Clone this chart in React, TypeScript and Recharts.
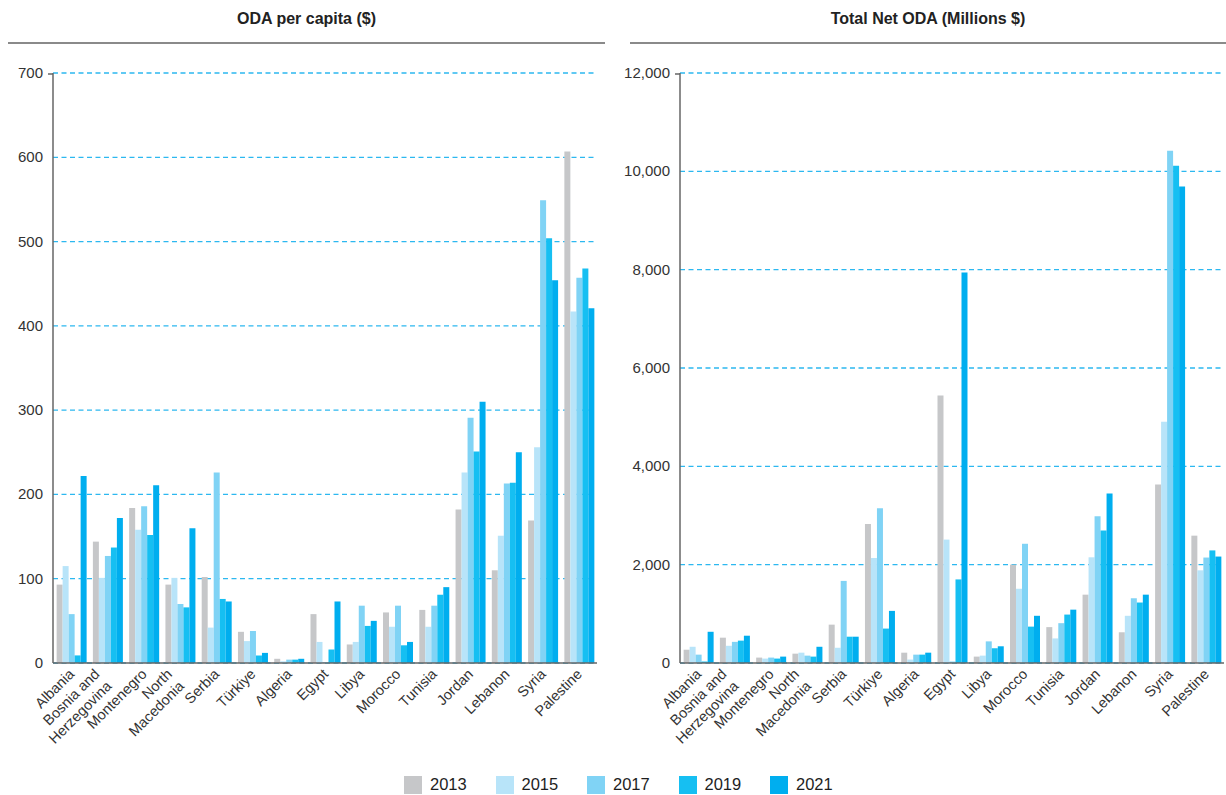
import React from 'react';
import { BarChart, Bar, XAxis, YAxis, CartesianGrid } from 'recharts';

const countries = [
  'Albania',
  'Bosnia and Herzegovina',
  'Montenegro',
  'North Macedonia',
  'Serbia',
  'Türkiye',
  'Algeria',
  'Egypt',
  'Libya',
  'Morocco',
  'Tunisia',
  'Jordan',
  'Lebanon',
  'Syria',
  'Palestine',
];

const years = ['2013', '2015', '2017', '2019', '2021'];
const yearColors = ['#c6c7c9', '#b8e4f9', '#80d3f5', '#16bff2', '#00aeef'];

// ODA per capita ($)
const perCapita2013 = [93, 144, 184, 93, 102, 37, 5, 58, 22, 60, 63, 182, 110, 169, 607];
const perCapita2015 = [115, 101, 158, 101, 42, 26, 2, 25, 25, 43, 43, 226, 151, 256, 417];
const perCapita2017 = [58, 127, 186, 70, 226, 38, 4, 1, 68, 68, 68, 291, 213, 549, 457];
const perCapita2019 = [9, 137, 152, 66, 76, 9, 4, 16, 44, 21, 81, 251, 214, 504, 468];
const perCapita2021 = [222, 172, 211, 160, 73, 12, 5, 73, 50, 25, 90, 310, 250, 454, 421];

// Total net ODA (millions $)
const total2013 = [270, 515, 110, 190, 780, 2825, 210, 5440, 130, 2000, 730, 1390, 625, 3630, 2590];
const total2015 = [330, 350, 90, 210, 310, 2135, 70, 2510, 150, 1510, 500, 2150, 960, 4905, 1885];
const total2017 = [170, 430, 110, 150, 1670, 3150, 170, 30, 440, 2425, 810, 2985, 1315, 10420, 2145];
const total2019 = [30, 455, 90, 130, 535, 700, 170, 1700, 300, 740, 985, 2695, 1230, 10115, 2290];
const total2021 = [635, 555, 130, 330, 535, 1060, 210, 7940, 340, 960, 1085, 3445, 1390, 9690, 2165];

const perCapitaTicks = [0, 100, 200, 300, 400, 500, 600, 700];
const totalTicks = [0, 2000, 4000, 6000, 8000, 10000, 12000];

const tickLines: Record<string, string[]> = {
  'Bosnia and Herzegovina': ['Bosnia and', 'Herzegovina'],
  'North Macedonia': ['North', 'Macedonia'],
};

const FONT = '"Liberation Sans", Arial, Helvetica, sans-serif';

function buildRows(series: number[][]) {
  return countries.map((country, i) => {
    const row: Record<string, string | number> = { country };
    years.forEach((y, k) => {
      row['y' + y] = series[k][i];
    });
    return row;
  });
}

const perCapitaRows = buildRows([perCapita2013, perCapita2015, perCapita2017, perCapita2019, perCapita2021]);
const totalRows = buildRows([total2013, total2015, total2017, total2019, total2021]);

function CountryTick(props: any) {
  const { x, y, payload } = props;
  const lines = tickLines[payload.value] ?? [payload.value];
  const n = lines.length;
  const dx = n > 1 ? -1 : 4;
  const dy = n > 1 ? 10 : 4;
  return (
    <g transform={`translate(${x + dx},${y + dy}) rotate(-45)`}>
      {lines.map((l, i) => (
        <text
          key={i}
          x={0}
          y={(i - (n - 1) / 2) * 17}
          textAnchor="end"
          fontSize={14.5}
          fill="#333"
          fontFamily={FONT}
        >
          {l}
        </text>
      ))}
    </g>
  );
}

function ValueTick(props: any) {
  const { x, y, payload, max } = props;
  const axisX = x + 10;
  return (
    <g>
      <text x={x} y={y} dy={5} textAnchor="end" fontSize={15} fill="#333" fontFamily={FONT}>
        {payload.value.toLocaleString('en-US')}
      </text>
      {payload.value === max && (
        <line x1={axisX - 5} y1={y + 1} x2={axisX} y2={y + 1} stroke="#666" strokeWidth={1.5} />
      )}
    </g>
  );
}

interface PanelProps {
  rows: Record<string, string | number>[];
  ticks: number[];
  yWidth: number;
  width: number;
  rightMargin: number;
}

function Panel({ rows, ticks, yWidth, width, rightMargin }: PanelProps) {
  const max = ticks[ticks.length - 1];
  return (
    <BarChart
      width={width}
      height={720}
      data={rows}
      margin={{ top: 23, right: rightMargin, bottom: 0, left: 0 }}
      barCategoryGap="10%"
      barGap={0}
    >
      <CartesianGrid
        vertical={false}
        stroke="#2cb8f0"
        strokeDasharray="5 3.5"
        strokeWidth={1.3}
      />
      <XAxis
        dataKey="country"
        interval={0}
        height={107}
        tick={<CountryTick />}
        tickLine={false}
        axisLine={{ stroke: '#666', strokeWidth: 1.5 }}
      />
      <YAxis
        width={yWidth}
        domain={[0, max]}
        ticks={ticks}
        interval={0}
        tick={<ValueTick max={max} />}
        tickLine={false}
        tickSize={6}
        tickMargin={4}
        axisLine={{ stroke: '#666', strokeWidth: 1.5 }}
      />
      {years.map((y, k) => (
        <Bar key={y} dataKey={'y' + y} fill={yearColors[k]} isAnimationActive={false} />
      ))}
    </BarChart>
  );
}

export default function App() {
  return (
    <div
      style={{
        position: 'absolute',
        left: 0,
        top: 0,
        width: 1226,
        height: 795,
        background: '#fff',
        fontFamily: FONT,
        color: '#222',
      }}
    >
      <div style={{ position: 'absolute', left: 8, width: 597, top: 10, textAlign: 'center', fontSize: 16, fontWeight: 'bold' }}>
        ODA per capita ($)
      </div>
      <div style={{ position: 'absolute', left: 8, width: 597, top: 42, height: 2, background: '#8a8a8a' }} />
      <div style={{ position: 'absolute', left: 630, width: 596, top: 10, textAlign: 'center', fontSize: 16, fontWeight: 'bold' }}>
        Total Net ODA (Millions $)
      </div>
      <div style={{ position: 'absolute', left: 630, width: 596, top: 42, height: 2, background: '#8a8a8a' }} />

      <div style={{ position: 'absolute', left: 0, top: 50 }}>
        <Panel rows={perCapitaRows} ticks={perCapitaTicks} yWidth={53} width={610} rightMargin={13} />
      </div>
      <div style={{ position: 'absolute', left: 620, top: 50 }}>
        <Panel rows={totalRows} ticks={totalTicks} yWidth={60} width={606} rightMargin={2} />
      </div>

      {years.map((y, k) => (
        <div
          key={y}
          style={{
            position: 'absolute',
            left: 404 + k * 91.5,
            top: 775,
            display: 'flex',
            alignItems: 'center',
            fontSize: 16.5,
            color: '#1e1e1e',
          }}
        >
          <span style={{ display: 'inline-block', width: 18, height: 18, background: yearColors[k], marginRight: 8 }} />
          <span>{y}</span>
        </div>
      ))}
    </div>
  );
}
